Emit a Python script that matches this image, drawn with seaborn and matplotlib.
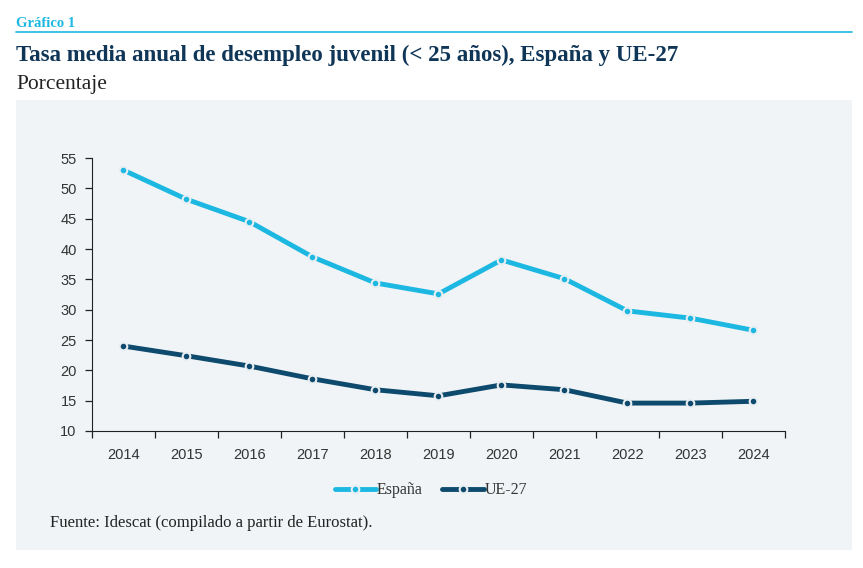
import matplotlib
matplotlib.use("Agg")
import matplotlib.pyplot as plt
import matplotlib.patches as mpatches
from matplotlib.ticker import FixedLocator, NullFormatter
import pandas as pd
import seaborn as sns

# Data
years = [2014, 2015, 2016, 2017, 2018, 2019, 2020, 2021, 2022, 2023, 2024]
espana = [53.0, 48.2, 44.5, 38.7, 34.4, 32.6, 38.2, 35.1, 29.8, 28.6, 26.6]
ue27 = [24.0, 22.4, 20.7, 18.6, 16.8, 15.8, 17.6, 16.8, 14.6, 14.6, 14.9]
series_names = ["España", "UE-27"]
y_ticks = [10, 15, 20, 25, 30, 35, 40, 45, 50, 55]

colors = {"España": "#1cb8e2", "UE-27": "#0d4a6d"}
title_color = "#0f3557"
panel_color = "#f0f4f6"

df = pd.DataFrame({
    "pos": list(range(len(years))) * 2,
    "valor": espana + ue27,
    "serie": [series_names[0]] * len(years) + [series_names[1]] * len(years),
})

sns.set_style("ticks")
plt.rcParams["font.family"] = ["Liberation Serif", "DejaVu Serif"]

fig = plt.figure(figsize=(8.63, 5.68), dpi=100)
fig.patch.set_facecolor("white")

# grey panel behind the chart
fig.patches.append(mpatches.Rectangle((0.0185, 0.0317), 0.9687, 0.7923,
                                      transform=fig.transFigure,
                                      facecolor=panel_color, edgecolor="none", zorder=-5))
# header rule
fig.add_artist(plt.Line2D([0.0185, 0.987], [0.943, 0.943], transform=fig.transFigure,
                          color="#1cb8e2", lw=1.2))

fig.text(0.0185, 0.953, "Gráfico 1", fontsize=10.5, fontweight="bold", color="#1cb8e2")
fig.text(0.0185, 0.893, "Tasa media anual de desempleo juvenil (< 25 años), España y UE-27",
         fontsize=16.5, fontweight="bold", color=title_color)
fig.text(0.0185, 0.843, "Porcentaje", fontsize=15.5, color="#222222")
fig.text(0.058, 0.072, "Fuente: Idescat (compilado a partir de Eurostat).",
         fontsize=12, color="#222222")

ax = fig.add_axes([0.1066, 0.2412, 0.803, 0.4806])
ax.set_facecolor("none")

sns.lineplot(data=df, x="pos", y="valor", hue="serie", palette=colors,
             marker="o", markersize=5.5, markeredgecolor="#e8eef1", markeredgewidth=1.5,
             linewidth=3.5, ax=ax)

ax.set_xlim(-0.5, len(years) - 0.5)
ax.set_ylim(10, 55)
ax.set_yticks(y_ticks)
ax.set_xticks(range(len(years)))
ax.set_xticklabels([str(y) for y in years])
ax.xaxis.set_minor_locator(FixedLocator([i - 0.5 for i in range(len(years) + 1)]))
ax.xaxis.set_minor_formatter(NullFormatter())
ax.tick_params(axis="x", which="major", length=0, pad=12)
ax.tick_params(axis="x", which="minor", length=5, width=0.9, color="#222222")
ax.tick_params(axis="y", length=5, width=0.9, color="#222222", pad=6)
for lab in ax.get_xticklabels() + ax.get_yticklabels():
    lab.set_family(["Liberation Sans Narrow", "Liberation Sans", "DejaVu Sans"])
    lab.set_fontsize(10.5)
    lab.set_color("#333333")

sns.despine(ax=ax)
ax.spines["left"].set_color("#222222")
ax.spines["bottom"].set_color("#222222")
ax.set_xlabel("")
ax.set_ylabel("")

leg = ax.legend(loc="upper center", bbox_to_anchor=(0.489, -0.135), ncol=2, frameon=False,
                fontsize=11.5, handlelength=2.6, handletextpad=0.05, columnspacing=1.2)
for t in leg.get_texts():
    t.set_color("#333333")

fig.savefig("out.png", dpi=100, facecolor="white")
